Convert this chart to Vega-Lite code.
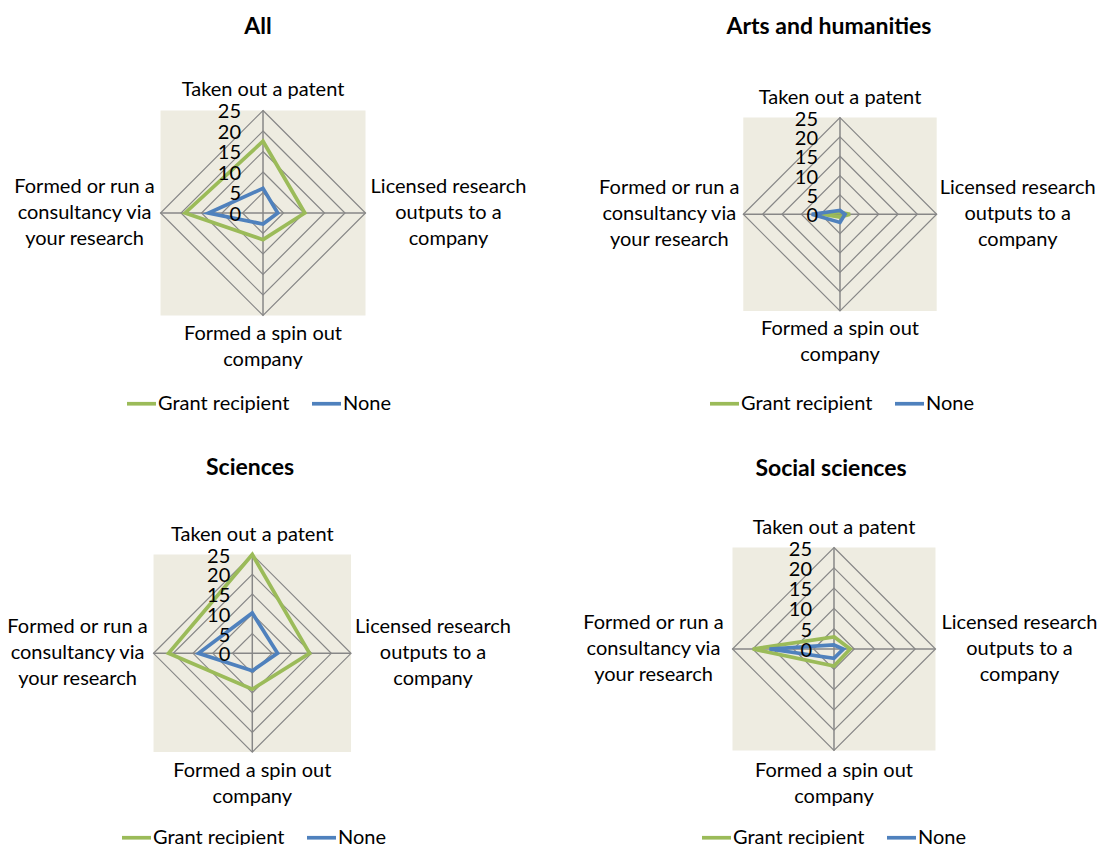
{
  "$schema": "https://vega.github.io/schema/vega-lite/v6.json",
  "padding": 0,
  "background": "white",
  "columns": 2,
  "spacing": 0,
  "datasets": {
    "levels": [
      {"level": 0, "k": [0, 1, 2, 3]},
      {"level": 5, "k": [0, 1, 2, 3]},
      {"level": 10, "k": [0, 1, 2, 3]},
      {"level": 15, "k": [0, 1, 2, 3]},
      {"level": 20, "k": [0, 1, 2, 3]},
      {"level": 25, "k": [0, 1, 2, 3]}
    ],
    "cats": [
      {"k": 0, "label": "Taken out a patent"},
      {"k": 1, "label": "Licensed research\noutputs to a\ncompany"},
      {"k": 2, "label": "Formed a spin out\ncompany"},
      {"k": 3, "label": "Formed or run a\nconsultancy via\nyour research"}
    ],
    "series": [
      {"panel": "All", "series": "Grant recipient", "item": "Taken out a patent", "value": 17.5},
      {"panel": "All", "series": "Grant recipient", "item": "Licensed research outputs to a company", "value": 10.2},
      {"panel": "All", "series": "Grant recipient", "item": "Formed a spin out company", "value": 6.5},
      {"panel": "All", "series": "Grant recipient", "item": "Formed or run a consultancy via your research", "value": 19.0},
      {"panel": "All", "series": "None", "item": "Taken out a patent", "value": 6.0},
      {"panel": "All", "series": "None", "item": "Licensed research outputs to a company", "value": 3.6},
      {"panel": "All", "series": "None", "item": "Formed a spin out company", "value": 2.7},
      {"panel": "All", "series": "None", "item": "Formed or run a consultancy via your research", "value": 13.3},
      {"panel": "Arts", "series": "Grant recipient", "item": "Taken out a patent", "value": 0.5},
      {"panel": "Arts", "series": "Grant recipient", "item": "Licensed research outputs to a company", "value": 2.6},
      {"panel": "Arts", "series": "Grant recipient", "item": "Formed a spin out company", "value": 0.7},
      {"panel": "Arts", "series": "Grant recipient", "item": "Formed or run a consultancy via your research", "value": 4.5},
      {"panel": "Arts", "series": "None", "item": "Taken out a patent", "value": 1.0},
      {"panel": "Arts", "series": "None", "item": "Licensed research outputs to a company", "value": 1.3},
      {"panel": "Arts", "series": "None", "item": "Formed a spin out company", "value": 2.1},
      {"panel": "Arts", "series": "None", "item": "Formed or run a consultancy via your research", "value": 7.3},
      {"panel": "Sci", "series": "Grant recipient", "item": "Taken out a patent", "value": 25.0},
      {"panel": "Sci", "series": "Grant recipient", "item": "Licensed research outputs to a company", "value": 14.5},
      {"panel": "Sci", "series": "Grant recipient", "item": "Formed a spin out company", "value": 9.1},
      {"panel": "Sci", "series": "Grant recipient", "item": "Formed or run a consultancy via your research", "value": 21.2},
      {"panel": "Sci", "series": "None", "item": "Taken out a patent", "value": 10.2},
      {"panel": "Sci", "series": "None", "item": "Licensed research outputs to a company", "value": 6.4},
      {"panel": "Sci", "series": "None", "item": "Formed a spin out company", "value": 4.4},
      {"panel": "Sci", "series": "None", "item": "Formed or run a consultancy via your research", "value": 13.6},
      {"panel": "Soc", "series": "Grant recipient", "item": "Taken out a patent", "value": 3.0},
      {"panel": "Soc", "series": "Grant recipient", "item": "Licensed research outputs to a company", "value": 4.0},
      {"panel": "Soc", "series": "Grant recipient", "item": "Formed a spin out company", "value": 4.2},
      {"panel": "Soc", "series": "Grant recipient", "item": "Formed or run a consultancy via your research", "value": 20.0},
      {"panel": "Soc", "series": "None", "item": "Taken out a patent", "value": 1.0},
      {"panel": "Soc", "series": "None", "item": "Licensed research outputs to a company", "value": 2.3},
      {"panel": "Soc", "series": "None", "item": "Formed a spin out company", "value": 2.3},
      {"panel": "Soc", "series": "None", "item": "Formed or run a consultancy via your research", "value": 15.9}
    ]
  },
  "concat": [
    {
      "width": 550, "height": 423,
      "title": {"text": "All", "dx": -17, "offset": -39},
      "layer": [
        {"data": {"values": [{}]}, "mark": {"type": "rect", "color": "#EEECE1"},
         "encoding": {"x": {"datum": -25, "type": "quantitative", "scale": {"domain": [-64.15, 70.0], "nice": false, "zero": false}, "axis": null}, "x2": {"datum": 25},
                      "y": {"datum": -25, "type": "quantitative", "scale": {"domain": [-51.22, 51.95], "nice": false, "zero": false}, "axis": null}, "y2": {"datum": 25}}},
        {"data": {"name": "levels"}, "transform": [{"filter": "datum.level > 0"}, {"flatten": ["k"]}, {"calculate": "datum.level * sin(datum.k * PI / 2)", "as": "gx"}, {"calculate": "datum.level * cos(datum.k * PI / 2)", "as": "gy"}],
         "mark": {"type": "line", "interpolate": "linear-closed", "color": "#878787", "strokeWidth": 1.2},
         "encoding": {"x": {"field": "gx", "type": "quantitative", "axis": null}, "y": {"field": "gy", "type": "quantitative", "axis": null}, "detail": {"field": "level", "type": "nominal"}, "order": {"field": "k", "type": "quantitative"}}},
        {"data": {"values": [{}]}, "mark": {"type": "rule", "color": "#878787", "strokeWidth": 1.5},
         "encoding": {"x": {"datum": -25, "type": "quantitative", "axis": null}, "x2": {"datum": 25}, "y": {"datum": 0, "type": "quantitative", "axis": null}}},
        {"data": {"values": [{}]}, "mark": {"type": "rule", "color": "#878787", "strokeWidth": 1.5},
         "encoding": {"y": {"datum": -25, "type": "quantitative", "axis": null}, "y2": {"datum": 25}, "x": {"datum": 0, "type": "quantitative", "axis": null}}},
        {"data": {"name": "series"}, "transform": [{"filter": "datum.panel == 'All'"}, {"calculate": "indexof(['Taken out a patent','Licensed research outputs to a company','Formed a spin out company','Formed or run a consultancy via your research'], datum.item)", "as": "k"}, {"calculate": "datum.value * sin(datum.k * PI / 2)", "as": "px"}, {"calculate": "datum.value * cos(datum.k * PI / 2)", "as": "py"}],
         "mark": {"type": "line", "interpolate": "linear-closed", "strokeWidth": 3.7},
         "encoding": {"x": {"field": "px", "type": "quantitative", "axis": null}, "y": {"field": "py", "type": "quantitative", "axis": null},
                      "color": {"field": "series", "type": "nominal", "scale": {"domain": ["Grant recipient", "None"], "range": ["#9BBB59", "#4F81BD"]}, "legend": {"orient": "none", "legendX": 125, "legendY": 387, "direction": "horizontal", "title": null}},
                      "order": {"field": "k", "type": "quantitative"}}},
        {"data": {"name": "levels"}, "mark": {"type": "text", "align": "right", "baseline": "middle", "dx": -22, "dy": 2},
         "encoding": {"x": {"datum": 0, "type": "quantitative", "axis": null}, "y": {"field": "level", "type": "quantitative", "axis": null}, "text": {"field": "level", "type": "quantitative"}}},
        {"data": {"name": "cats"}, "transform": [{"filter": "datum.k == 0"}], "mark": {"type": "text", "align": "center", "baseline": "middle", "dy": -20, "lineBreak": "\n", "lineHeight": 26},
         "encoding": {"x": {"datum": 0, "type": "quantitative", "axis": null}, "y": {"datum": 25, "type": "quantitative", "axis": null}, "text": {"field": "label", "type": "nominal"}}},
        {"data": {"name": "cats"}, "transform": [{"filter": "datum.k == 1"}], "mark": {"type": "text", "align": "center", "baseline": "middle", "dx": 83, "dy": -26, "lineBreak": "\n", "lineHeight": 26},
         "encoding": {"x": {"datum": 25, "type": "quantitative", "axis": null}, "y": {"datum": 0, "type": "quantitative", "axis": null}, "text": {"field": "label", "type": "nominal"}}},
        {"data": {"name": "cats"}, "transform": [{"filter": "datum.k == 2"}], "mark": {"type": "text", "align": "center", "baseline": "middle", "dy": 19, "lineBreak": "\n", "lineHeight": 26},
         "encoding": {"x": {"datum": 0, "type": "quantitative", "axis": null}, "y": {"datum": -25, "type": "quantitative", "axis": null}, "text": {"field": "label", "type": "nominal"}}},
        {"data": {"name": "cats"}, "transform": [{"filter": "datum.k == 3"}], "mark": {"type": "text", "align": "center", "baseline": "middle", "dx": -76, "dy": -26, "lineBreak": "\n", "lineHeight": 26},
         "encoding": {"x": {"datum": -25, "type": "quantitative", "axis": null}, "y": {"datum": 0, "type": "quantitative", "axis": null}, "text": {"field": "label", "type": "nominal"}}}
      ]
    },
    {
      "width": 550, "height": 423,
      "title": {"text": "Arts and humanities", "dx": 4, "offset": -39},
      "layer": [
        {"data": {"values": [{}]}, "mark": {"type": "rect", "color": "#EEECE1"},
         "encoding": {"x": {"datum": -25, "type": "quantitative", "scale": {"domain": [-74.97, 67.22], "nice": false, "zero": false}, "axis": null}, "x2": {"datum": 25},
                      "y": {"datum": -25, "type": "quantitative", "scale": {"domain": [-53.96, 55.40], "nice": false, "zero": false}, "axis": null}, "y2": {"datum": 25}}},
        {"data": {"name": "levels"}, "transform": [{"filter": "datum.level > 0"}, {"flatten": ["k"]}, {"calculate": "datum.level * sin(datum.k * PI / 2)", "as": "gx"}, {"calculate": "datum.level * cos(datum.k * PI / 2)", "as": "gy"}],
         "mark": {"type": "line", "interpolate": "linear-closed", "color": "#878787", "strokeWidth": 1.2},
         "encoding": {"x": {"field": "gx", "type": "quantitative", "axis": null}, "y": {"field": "gy", "type": "quantitative", "axis": null}, "detail": {"field": "level", "type": "nominal"}, "order": {"field": "k", "type": "quantitative"}}},
        {"data": {"values": [{}]}, "mark": {"type": "rule", "color": "#878787", "strokeWidth": 1.5},
         "encoding": {"x": {"datum": -25, "type": "quantitative", "axis": null}, "x2": {"datum": 25}, "y": {"datum": 0, "type": "quantitative", "axis": null}}},
        {"data": {"values": [{}]}, "mark": {"type": "rule", "color": "#878787", "strokeWidth": 1.5},
         "encoding": {"y": {"datum": -25, "type": "quantitative", "axis": null}, "y2": {"datum": 25}, "x": {"datum": 0, "type": "quantitative", "axis": null}}},
        {"data": {"name": "series"}, "transform": [{"filter": "datum.panel == 'Arts'"}, {"calculate": "indexof(['Taken out a patent','Licensed research outputs to a company','Formed a spin out company','Formed or run a consultancy via your research'], datum.item)", "as": "k"}, {"calculate": "datum.value * sin(datum.k * PI / 2)", "as": "px"}, {"calculate": "datum.value * cos(datum.k * PI / 2)", "as": "py"}],
         "mark": {"type": "line", "interpolate": "linear-closed", "strokeWidth": 3.7},
         "encoding": {"x": {"field": "px", "type": "quantitative", "axis": null}, "y": {"field": "py", "type": "quantitative", "axis": null},
                      "color": {"field": "series", "type": "nominal", "scale": {"domain": ["Grant recipient", "None"], "range": ["#9BBB59", "#4F81BD"]}, "legend": {"orient": "none", "legendX": 158, "legendY": 387, "direction": "horizontal", "title": null}},
                      "order": {"field": "k", "type": "quantitative"}}},
        {"data": {"name": "levels"}, "mark": {"type": "text", "align": "right", "baseline": "middle", "dx": -22, "dy": 2},
         "encoding": {"x": {"datum": 0, "type": "quantitative", "axis": null}, "y": {"field": "level", "type": "quantitative", "axis": null}, "text": {"field": "level", "type": "quantitative"}}},
        {"data": {"name": "cats"}, "transform": [{"filter": "datum.k == 0"}], "mark": {"type": "text", "align": "center", "baseline": "middle", "dy": -20, "lineBreak": "\n", "lineHeight": 26},
         "encoding": {"x": {"datum": 0, "type": "quantitative", "axis": null}, "y": {"datum": 25, "type": "quantitative", "axis": null}, "text": {"field": "label", "type": "nominal"}}},
        {"data": {"name": "cats"}, "transform": [{"filter": "datum.k == 1"}], "mark": {"type": "text", "align": "center", "baseline": "middle", "dx": 81, "dy": -26, "lineBreak": "\n", "lineHeight": 26},
         "encoding": {"x": {"datum": 25, "type": "quantitative", "axis": null}, "y": {"datum": 0, "type": "quantitative", "axis": null}, "text": {"field": "label", "type": "nominal"}}},
        {"data": {"name": "cats"}, "transform": [{"filter": "datum.k == 2"}], "mark": {"type": "text", "align": "center", "baseline": "middle", "dy": 18, "lineBreak": "\n", "lineHeight": 26},
         "encoding": {"x": {"datum": 0, "type": "quantitative", "axis": null}, "y": {"datum": -25, "type": "quantitative", "axis": null}, "text": {"field": "label", "type": "nominal"}}},
        {"data": {"name": "cats"}, "transform": [{"filter": "datum.k == 3"}], "mark": {"type": "text", "align": "center", "baseline": "middle", "dx": -74, "dy": -26, "lineBreak": "\n", "lineHeight": 26},
         "encoding": {"x": {"datum": -25, "type": "quantitative", "axis": null}, "y": {"datum": 0, "type": "quantitative", "axis": null}, "text": {"field": "label", "type": "nominal"}}}
      ]
    },
    {
      "width": 550, "height": 423,
      "title": {"text": "Sciences", "dx": -25, "offset": -57},
      "layer": [
        {"data": {"values": [{}]}, "mark": {"type": "rect", "color": "#EEECE1"},
         "encoding": {"x": {"datum": -25, "type": "quantitative", "scale": {"domain": [-63.87, 75.37], "nice": false, "zero": false}, "axis": null}, "x2": {"datum": 25},
                      "y": {"datum": -25, "type": "quantitative", "scale": {"domain": [-48.78, 58.30], "nice": false, "zero": false}, "axis": null}, "y2": {"datum": 25}}},
        {"data": {"name": "levels"}, "transform": [{"filter": "datum.level > 0"}, {"flatten": ["k"]}, {"calculate": "datum.level * sin(datum.k * PI / 2)", "as": "gx"}, {"calculate": "datum.level * cos(datum.k * PI / 2)", "as": "gy"}],
         "mark": {"type": "line", "interpolate": "linear-closed", "color": "#878787", "strokeWidth": 1.2},
         "encoding": {"x": {"field": "gx", "type": "quantitative", "axis": null}, "y": {"field": "gy", "type": "quantitative", "axis": null}, "detail": {"field": "level", "type": "nominal"}, "order": {"field": "k", "type": "quantitative"}}},
        {"data": {"values": [{}]}, "mark": {"type": "rule", "color": "#878787", "strokeWidth": 1.5},
         "encoding": {"x": {"datum": -25, "type": "quantitative", "axis": null}, "x2": {"datum": 25}, "y": {"datum": 0, "type": "quantitative", "axis": null}}},
        {"data": {"values": [{}]}, "mark": {"type": "rule", "color": "#878787", "strokeWidth": 1.5},
         "encoding": {"y": {"datum": -25, "type": "quantitative", "axis": null}, "y2": {"datum": 25}, "x": {"datum": 0, "type": "quantitative", "axis": null}}},
        {"data": {"name": "series"}, "transform": [{"filter": "datum.panel == 'Sci'"}, {"calculate": "indexof(['Taken out a patent','Licensed research outputs to a company','Formed a spin out company','Formed or run a consultancy via your research'], datum.item)", "as": "k"}, {"calculate": "datum.value * sin(datum.k * PI / 2)", "as": "px"}, {"calculate": "datum.value * cos(datum.k * PI / 2)", "as": "py"}],
         "mark": {"type": "line", "interpolate": "linear-closed", "strokeWidth": 3.7},
         "encoding": {"x": {"field": "px", "type": "quantitative", "axis": null}, "y": {"field": "py", "type": "quantitative", "axis": null},
                      "color": {"field": "series", "type": "nominal", "scale": {"domain": ["Grant recipient", "None"], "range": ["#9BBB59", "#4F81BD"]}, "legend": {"orient": "none", "legendX": 120, "legendY": 398, "direction": "horizontal", "title": null}},
                      "order": {"field": "k", "type": "quantitative"}}},
        {"data": {"name": "levels"}, "mark": {"type": "text", "align": "right", "baseline": "middle", "dx": -22, "dy": 2},
         "encoding": {"x": {"datum": 0, "type": "quantitative", "axis": null}, "y": {"field": "level", "type": "quantitative", "axis": null}, "text": {"field": "level", "type": "quantitative"}}},
        {"data": {"name": "cats"}, "transform": [{"filter": "datum.k == 0"}], "mark": {"type": "text", "align": "center", "baseline": "middle", "dy": -20, "lineBreak": "\n", "lineHeight": 26},
         "encoding": {"x": {"datum": 0, "type": "quantitative", "axis": null}, "y": {"datum": 25, "type": "quantitative", "axis": null}, "text": {"field": "label", "type": "nominal"}}},
        {"data": {"name": "cats"}, "transform": [{"filter": "datum.k == 1"}], "mark": {"type": "text", "align": "center", "baseline": "middle", "dx": 82, "dy": -26, "lineBreak": "\n", "lineHeight": 26},
         "encoding": {"x": {"datum": 25, "type": "quantitative", "axis": null}, "y": {"datum": 0, "type": "quantitative", "axis": null}, "text": {"field": "label", "type": "nominal"}}},
        {"data": {"name": "cats"}, "transform": [{"filter": "datum.k == 2"}], "mark": {"type": "text", "align": "center", "baseline": "middle", "dy": 19, "lineBreak": "\n", "lineHeight": 26},
         "encoding": {"x": {"datum": 0, "type": "quantitative", "axis": null}, "y": {"datum": -25, "type": "quantitative", "axis": null}, "text": {"field": "label", "type": "nominal"}}},
        {"data": {"name": "cats"}, "transform": [{"filter": "datum.k == 3"}], "mark": {"type": "text", "align": "center", "baseline": "middle", "dx": -76, "dy": -26, "lineBreak": "\n", "lineHeight": 26},
         "encoding": {"x": {"datum": -25, "type": "quantitative", "axis": null}, "y": {"datum": 0, "type": "quantitative", "axis": null}, "text": {"field": "label", "type": "nominal"}}}
      ]
    },
    {
      "width": 550, "height": 423,
      "title": {"text": "Social sciences", "dx": 6, "offset": -58},
      "layer": [
        {"data": {"values": [{}]}, "mark": {"type": "rect", "color": "#EEECE1"},
         "encoding": {"x": {"datum": -25, "type": "quantitative", "scale": {"domain": [-69.95, 65.52], "nice": false, "zero": false}, "axis": null}, "x2": {"datum": 25},
                      "y": {"datum": -25, "type": "quantitative", "scale": {"domain": [-48.52, 55.67], "nice": false, "zero": false}, "axis": null}, "y2": {"datum": 25}}},
        {"data": {"name": "levels"}, "transform": [{"filter": "datum.level > 0"}, {"flatten": ["k"]}, {"calculate": "datum.level * sin(datum.k * PI / 2)", "as": "gx"}, {"calculate": "datum.level * cos(datum.k * PI / 2)", "as": "gy"}],
         "mark": {"type": "line", "interpolate": "linear-closed", "color": "#878787", "strokeWidth": 1.2},
         "encoding": {"x": {"field": "gx", "type": "quantitative", "axis": null}, "y": {"field": "gy", "type": "quantitative", "axis": null}, "detail": {"field": "level", "type": "nominal"}, "order": {"field": "k", "type": "quantitative"}}},
        {"data": {"values": [{}]}, "mark": {"type": "rule", "color": "#878787", "strokeWidth": 1.5},
         "encoding": {"x": {"datum": -25, "type": "quantitative", "axis": null}, "x2": {"datum": 25}, "y": {"datum": 0, "type": "quantitative", "axis": null}}},
        {"data": {"values": [{}]}, "mark": {"type": "rule", "color": "#878787", "strokeWidth": 1.5},
         "encoding": {"y": {"datum": -25, "type": "quantitative", "axis": null}, "y2": {"datum": 25}, "x": {"datum": 0, "type": "quantitative", "axis": null}}},
        {"data": {"name": "series"}, "transform": [{"filter": "datum.panel == 'Soc'"}, {"calculate": "indexof(['Taken out a patent','Licensed research outputs to a company','Formed a spin out company','Formed or run a consultancy via your research'], datum.item)", "as": "k"}, {"calculate": "datum.value * sin(datum.k * PI / 2)", "as": "px"}, {"calculate": "datum.value * cos(datum.k * PI / 2)", "as": "py"}],
         "mark": {"type": "line", "interpolate": "linear-closed", "strokeWidth": 3.7},
         "encoding": {"x": {"field": "px", "type": "quantitative", "axis": null}, "y": {"field": "py", "type": "quantitative", "axis": null},
                      "color": {"field": "series", "type": "nominal", "scale": {"domain": ["Grant recipient", "None"], "range": ["#9BBB59", "#4F81BD"]}, "legend": {"orient": "none", "legendX": 150, "legendY": 398, "direction": "horizontal", "title": null}},
                      "order": {"field": "k", "type": "quantitative"}}},
        {"data": {"name": "levels"}, "mark": {"type": "text", "align": "right", "baseline": "middle", "dx": -22, "dy": 2},
         "encoding": {"x": {"datum": 0, "type": "quantitative", "axis": null}, "y": {"field": "level", "type": "quantitative", "axis": null}, "text": {"field": "level", "type": "quantitative"}}},
        {"data": {"name": "cats"}, "transform": [{"filter": "datum.k == 0"}], "mark": {"type": "text", "align": "center", "baseline": "middle", "dy": -20, "lineBreak": "\n", "lineHeight": 26},
         "encoding": {"x": {"datum": 0, "type": "quantitative", "axis": null}, "y": {"datum": 25, "type": "quantitative", "axis": null}, "text": {"field": "label", "type": "nominal"}}},
        {"data": {"name": "cats"}, "transform": [{"filter": "datum.k == 1"}], "mark": {"type": "text", "align": "center", "baseline": "middle", "dx": 84, "dy": -26, "lineBreak": "\n", "lineHeight": 26},
         "encoding": {"x": {"datum": 25, "type": "quantitative", "axis": null}, "y": {"datum": 0, "type": "quantitative", "axis": null}, "text": {"field": "label", "type": "nominal"}}},
        {"data": {"name": "cats"}, "transform": [{"filter": "datum.k == 2"}], "mark": {"type": "text", "align": "center", "baseline": "middle", "dy": 20, "lineBreak": "\n", "lineHeight": 26},
         "encoding": {"x": {"datum": 0, "type": "quantitative", "axis": null}, "y": {"datum": -25, "type": "quantitative", "axis": null}, "text": {"field": "label", "type": "nominal"}}},
        {"data": {"name": "cats"}, "transform": [{"filter": "datum.k == 3"}], "mark": {"type": "text", "align": "center", "baseline": "middle", "dx": -79, "dy": -26, "lineBreak": "\n", "lineHeight": 26},
         "encoding": {"x": {"datum": -25, "type": "quantitative", "axis": null}, "y": {"datum": 0, "type": "quantitative", "axis": null}, "text": {"field": "label", "type": "nominal"}}}
      ]
    }
  ],
  "resolve": {"scale": {"color": "independent"}, "legend": {"color": "independent"}},
  "config": {
    "view": {"stroke": null},
    "text": {"font": "Lato", "fontSize": 20, "color": "#000000"},
    "title": {"font": "Lato", "fontSize": 23, "fontWeight": "bold", "color": "#000000", "anchor": "middle", "frame": "group", "baseline": "alphabetic"},
    "legend": {"symbolType": "stroke", "symbolSize": 841, "symbolStrokeWidth": 3.7, "labelFont": "Lato", "labelFontSize": 20, "labelColor": "#000000", "labelOffset": 0, "columnPadding": 14, "padding": 0, "labelLimit": 0}
  }
}
